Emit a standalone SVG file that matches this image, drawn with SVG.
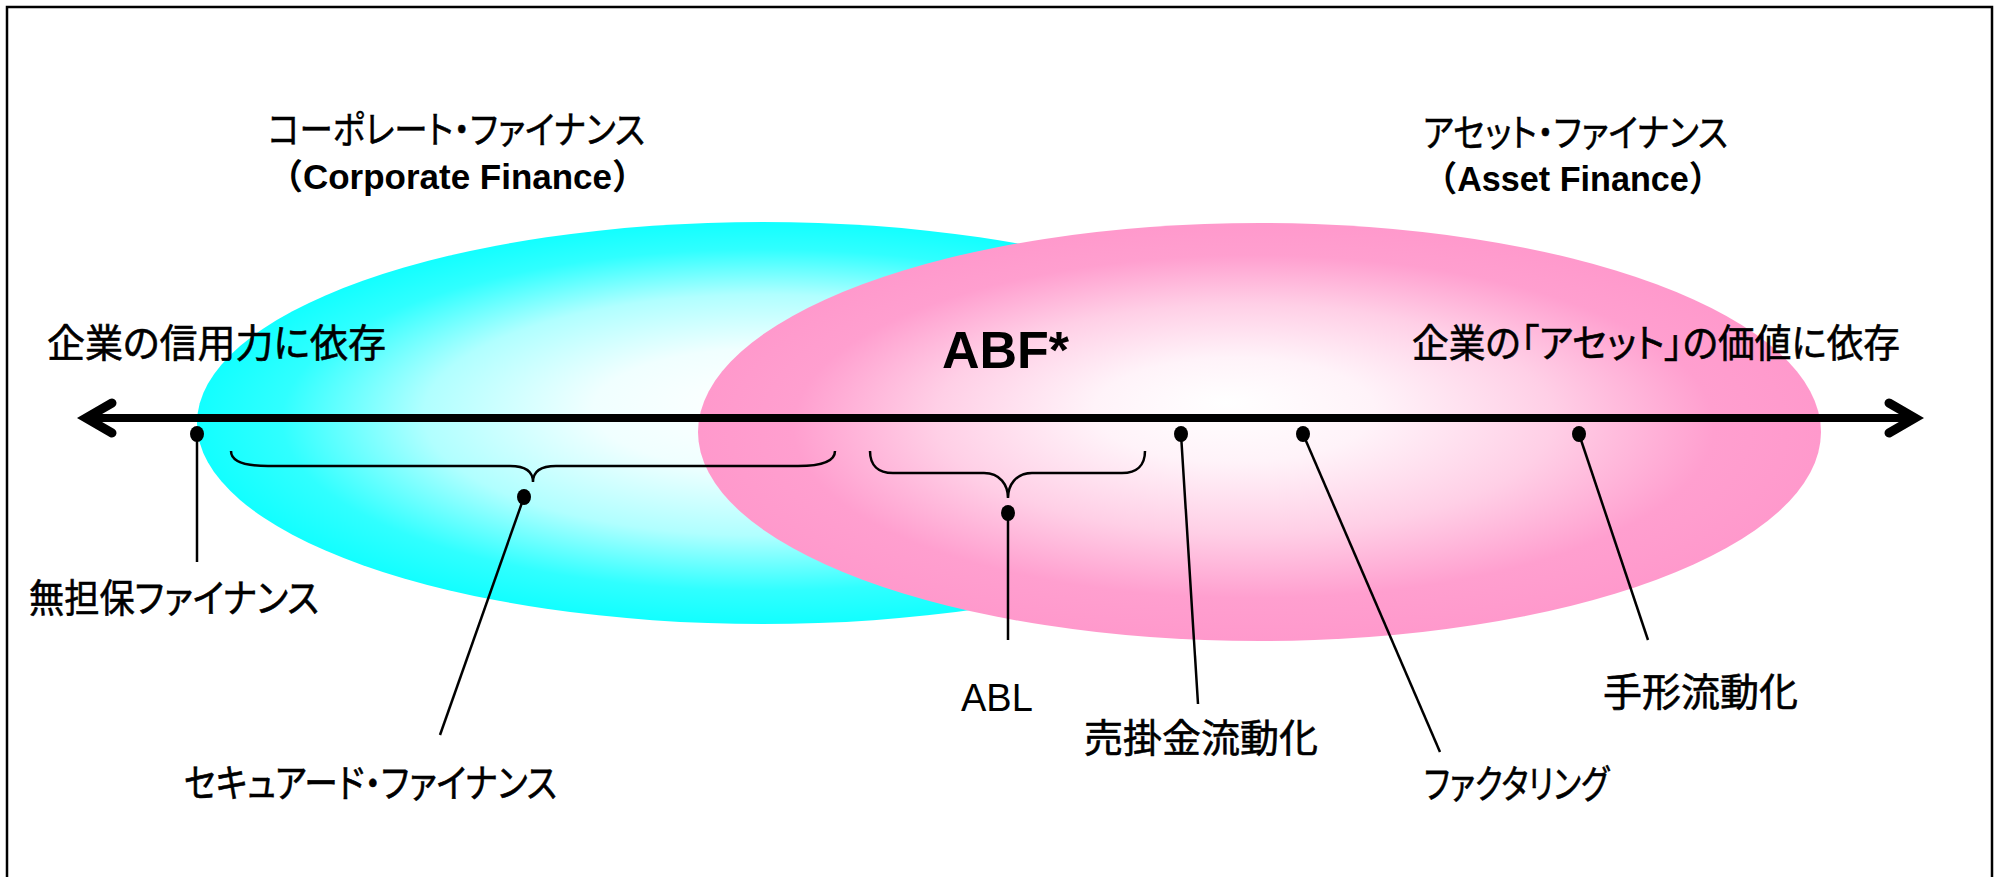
<svg xmlns="http://www.w3.org/2000/svg" width="1995" height="877" viewBox="0 0 1995 877">
<defs>
<radialGradient id="gCyan" cx="0.5" cy="0.5" r="0.5" fx="0.5" fy="0.45">
<stop offset="0" stop-color="#FFFFFF"/>
<stop offset="0.3" stop-color="#F0FFFF"/>
<stop offset="0.6" stop-color="#B0FFFF"/>
<stop offset="0.85" stop-color="#30FFFF"/>
<stop offset="1" stop-color="#12FFFF"/>
</radialGradient>
<radialGradient id="gPink" cx="0.5" cy="0.5" r="0.5" fx="0.47" fy="0.43">
<stop offset="0" stop-color="#FFFFFF"/>
<stop offset="0.25" stop-color="#FFF3F9"/>
<stop offset="0.55" stop-color="#FFCFE6"/>
<stop offset="0.82" stop-color="#FF9FCF"/>
<stop offset="1" stop-color="#FF99CC"/>
</radialGradient>
<style>
.jp{font-family:"Noto Sans CJK JP","Noto Sans",sans-serif;font-size:39px;fill:#000;stroke:#000;stroke-width:0.6;font-feature-settings:"palt"}
.ttl{font-family:"Noto Sans CJK JP",sans-serif;font-size:38px;fill:#000;stroke:#000;stroke-width:0.5;font-feature-settings:"palt"}
.en{font-family:"Liberation Sans","Noto Sans CJK JP",sans-serif;font-weight:bold;fill:#000}
.lbl{font-family:"Liberation Sans",sans-serif;font-size:38px;fill:#000}
.ln{stroke:#000;stroke-width:2.5;fill:none}
.br{stroke:#000;stroke-width:2.5;fill:none}
.dot{fill:#000}
</style>
</defs>
<rect x="7" y="7" width="1985" height="900" fill="#FFFFFF" stroke="#000" stroke-width="2.5"/>

<g id="corporate-finance">
<ellipse cx="763" cy="423" rx="566" ry="201" fill="url(#gCyan)"/>
</g>
<g id="asset-finance">
<ellipse cx="1259.5" cy="432" rx="561.5" ry="209" fill="url(#gPink)"/>
</g>

<g id="titles">
<text class="ttl" x="268" y="143" textLength="377" lengthAdjust="spacingAndGlyphs">コーポレート・ファイナンス</text>
<text class="en" x="268" y="189" font-size="35" textLength="379" lengthAdjust="spacingAndGlyphs">（Corporate Finance）</text>
<text class="ttl" x="1423" y="146" textLength="305" lengthAdjust="spacingAndGlyphs">アセット・ファイナンス</text>
<text class="en" x="1423" y="191" font-size="35" textLength="300" lengthAdjust="spacingAndGlyphs">（Asset Finance）</text>
</g>

<g id="axis">
<line x1="84" y1="418" x2="1917" y2="418" stroke="#000" stroke-width="8"/>
<polyline points="112,403 86,418 112,433" fill="none" stroke="#000" stroke-width="9" stroke-linecap="round" stroke-linejoin="miter"/>
<polyline points="1889,403 1915,418 1889,433" fill="none" stroke="#000" stroke-width="9" stroke-linecap="round" stroke-linejoin="miter"/>
<text class="jp" x="47" y="357" textLength="339" lengthAdjust="spacingAndGlyphs">企業の信用力に依存</text>
<text class="jp" x="1412" y="357" textLength="488" lengthAdjust="spacingAndGlyphs">企業の「アセット」の価値に依存</text>
<text class="en" x="942" y="368" font-size="52">ABF*</text>
</g>

<g id="connectors">
<path class="br" d="M231,451 C231,462 245,466 268,466 L510,466 C526,466 533,472 533,482 C533,472 540,466 556,466 L798,466 C821,466 835,462 835,451"/>
<path class="br" d="M870,451 C870,465 878,473 893,473 L984,473 C1000,473 1008,485 1008,498 C1008,485 1016,473 1032,473 L1122,473 C1137,473 1145,465 1145,451"/>
<line class="ln" x1="197" y1="434" x2="197" y2="562"/>
<line class="ln" x1="524" y1="497" x2="440" y2="735"/>
<line class="ln" x1="1008" y1="513" x2="1008" y2="640"/>
<line class="ln" x1="1181" y1="434" x2="1198" y2="704"/>
<line class="ln" x1="1303" y1="434" x2="1440" y2="752"/>
<line class="ln" x1="1579" y1="434" x2="1648" y2="640"/>
<ellipse class="dot" cx="197" cy="434" rx="7" ry="8"/>
<ellipse class="dot" cx="524" cy="497" rx="7" ry="8"/>
<ellipse class="dot" cx="1008" cy="513" rx="7" ry="8"/>
<ellipse class="dot" cx="1181" cy="434" rx="7" ry="8"/>
<ellipse class="dot" cx="1303" cy="434" rx="7" ry="8"/>
<ellipse class="dot" cx="1579" cy="434" rx="7" ry="8"/>
</g>

<g id="unsecured-finance">
<text class="jp" x="29" y="612" textLength="290" lengthAdjust="spacingAndGlyphs">無担保ファイナンス</text>
</g>
<g id="secured-finance">
<text class="jp" x="184" y="797" textLength="373" lengthAdjust="spacingAndGlyphs">セキュアード・ファイナンス</text>
</g>
<g id="abl">
<text class="lbl" x="961" y="711">ABL</text>
</g>
<g id="receivables">
<text class="jp" x="1084" y="752" textLength="234" lengthAdjust="spacingAndGlyphs">売掛金流動化</text>
</g>
<g id="factoring">
<text class="jp" x="1424" y="798" textLength="185" lengthAdjust="spacingAndGlyphs">ファクタリング</text>
</g>
<g id="notes">
<text class="jp" x="1603" y="706" textLength="195" lengthAdjust="spacingAndGlyphs">手形流動化</text>
</g>
</svg>
